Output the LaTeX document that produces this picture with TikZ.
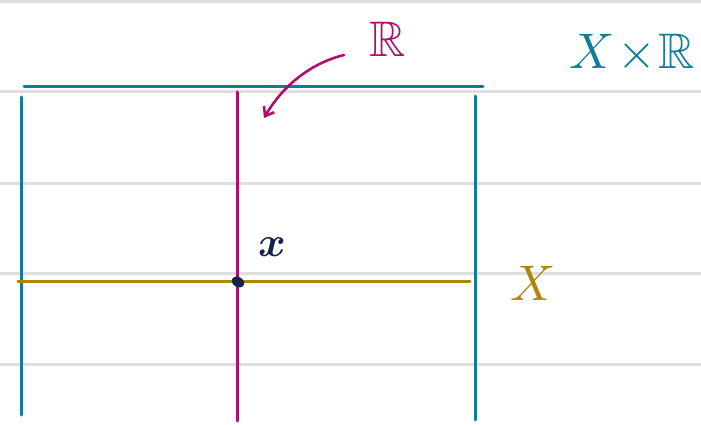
\documentclass[tikz,border=0pt]{standalone}
\usepackage{amssymb}
\usepackage{bm}
\usetikzlibrary{arrows.meta,shapes.geometric}
\definecolor{teal}{HTML}{117C9A}
\definecolor{mag}{HTML}{B30E6E}
\definecolor{gold}{HTML}{AD8705}
\definecolor{navy}{HTML}{13224F}
\definecolor{rule}{HTML}{DEDEDE}
\newcommand{\bigtxt}[2]{\scalebox{#1}{#2}}
\begin{document}
\begin{tikzpicture}[x=1pt,y=-1pt,
  ruleline/.style={rule,line width=3pt},
  tealline/.style={teal,line width=3pt,line cap=round},
  magline/.style={mag,line width=3pt,line cap=round},
  goldline/.style={gold,line width=3pt,line cap=round},
  lbl/.style={inner sep=0pt}]
\useasboundingbox (0,0) rectangle (701,425);
% ruled paper
\foreach \yy/\nm in {2/ra,92/rb,183/rc,273/rd,364/re}{
  \coordinate (\nm l) at (0,\yy); \coordinate (\nm r) at (701,\yy);
  \draw[ruleline] (\nm l) -- (\nm r);
}
% X x R rectangle
\coordinate (tl) at (24,87); \coordinate (tr) at (483,87);
\coordinate (lt) at (21,97); \coordinate (lb) at (21,415);
\coordinate (rt) at (475,96); \coordinate (rb) at (475,420);
\draw[tealline] (tl) -- (tr);
\draw[tealline] (lt) -- (lb);
\draw[tealline] (rt) -- (rb);
% fibre R
\coordinate (mt) at (237,92); \coordinate (mb) at (237,421);
\draw[magline] (mt) -- (mb);
% X
\coordinate (gl) at (18,281); \coordinate (gr) at (470,281);
\draw[goldline] (gl) -- (gr);
% point
\node[fill=navy,ellipse,minimum width=13pt,minimum height=10pt,inner sep=0pt,rotate=-30] (pt) at (238,282) {};
% labels
\node[lbl,text=navy] (xl) at (272,247) {\bigtxt{4.2}{$\bm{x}$}};
\node[lbl,text=gold] (Xl) at (533,283) {\bigtxt{5}{$X$}};
\node[lbl,text=mag] (Rl) at (388,39) {\bigtxt{5}{$\bm{\mathbb{R}}$}};
\node[lbl,text=teal] (XRl) at (632,53) {\bigtxt{5}{$X\!\times\!\bm{\mathbb{R}}$}};
% arrow
\coordinate (as) at (344,55);
\coordinate (ae) at (264,118);
\draw[mag,line width=2.6pt,line cap=round,-{Straight Barb[length=8pt,width=12pt]}]
  (as) .. controls (315,62) and (285,82) .. (ae);
\end{tikzpicture}
\end{document}
